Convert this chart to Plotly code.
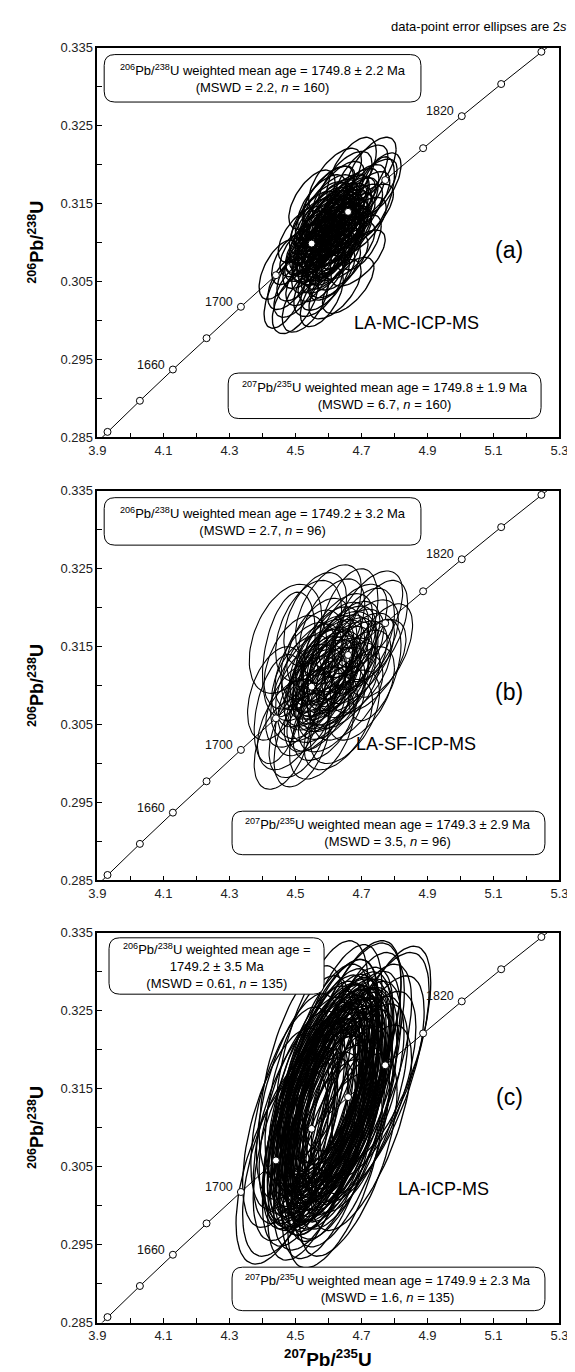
import math
import plotly.graph_objects as go

# ---------------- data ----------------
# concordia (age in Ma, 207Pb/235U, 206Pb/238U)
CONC_AGE = [1600, 1620, 1640, 1660, 1680, 1700, 1720, 1740, 1760, 1780, 1800, 1820, 1840, 1860, 1880]
CONC_X = [3.8345, 3.9306, 4.0287, 4.1287, 4.2307, 4.3348, 4.4409, 4.5491, 4.6595, 4.7721, 4.8869, 5.0040, 5.1234, 5.2452, 5.3700]
CONC_Y = [0.28171, 0.28570, 0.28969, 0.29370, 0.29772, 0.30175, 0.30580, 0.30986, 0.31393, 0.31801, 0.32210, 0.32621, 0.33033, 0.33447, 0.33861]
CONC_LABELS = {1660: "1660", 1700: "1700", 1820: "1820"}

X_TICKS = [3.9, 4.1, 4.3, 4.5, 4.7, 4.9, 5.1, 5.3]
Y_TICKS = [0.285, 0.295, 0.305, 0.315, 0.325, 0.335]

# panel (a) LA-MC-ICP-MS ellipses: centre x, centre y, 2s x, 2s y, rho
A_CX = [4.60, 4.58, 4.62, 4.56, 4.64, 4.59, 4.63, 4.55, 4.66, 4.61, 4.57, 4.65, 4.53, 4.68, 4.60, 4.62, 4.54, 4.67, 4.58, 4.64,
        4.51, 4.70, 4.56, 4.66, 4.59, 4.63, 4.50, 4.72, 4.61, 4.57, 4.65, 4.69, 4.55, 4.52, 4.71, 4.60, 4.62, 4.58, 4.64, 4.48,
        4.74, 4.53, 4.67, 4.60, 4.56, 4.66, 4.61, 4.59, 4.63, 4.57, 4.69, 4.54, 4.62, 4.70, 4.49, 4.58,
        4.59, 4.61, 4.57, 4.63, 4.60, 4.62, 4.58, 4.64, 4.56, 4.65, 4.60, 4.61, 4.59, 4.63, 4.57, 4.62, 4.66, 4.55, 4.60, 4.64,
        4.58, 4.61, 4.63, 4.59, 4.62, 4.56, 4.65, 4.60, 4.58, 4.67, 4.54, 4.61, 4.63, 4.60, 4.57, 4.64, 4.59, 4.62, 4.66, 4.58,
        4.60, 4.63, 4.61, 4.56, 4.65, 4.59, 4.62, 4.57, 4.64, 4.60,
        4.47, 4.50, 4.75, 4.52, 4.69, 4.55, 4.70, 4.66, 4.45, 4.73]
A_CY = [0.3110, 0.3100, 0.3120, 0.3085, 0.3130, 0.3125, 0.3095, 0.3105, 0.3145, 0.3080, 0.3115, 0.3110, 0.3075, 0.3135, 0.3140, 0.3065, 0.3095, 0.3155, 0.3060, 0.3150,
        0.3060, 0.3150, 0.3130, 0.3090, 0.3050, 0.3165, 0.3040, 0.3165, 0.3100, 0.3045, 0.3175, 0.3120, 0.3120, 0.3090, 0.3135, 0.3160, 0.3040, 0.3150, 0.3075, 0.3050,
        0.3160, 0.3025, 0.3190, 0.3095, 0.3070, 0.3125, 0.3135, 0.3085, 0.3105, 0.3095, 0.3160, 0.3055, 0.3180, 0.3100, 0.3080, 0.3030,
        0.3105, 0.3115, 0.3095, 0.3125, 0.3120, 0.3105, 0.3110, 0.3120, 0.3090, 0.3135, 0.3100, 0.3125, 0.3115, 0.3100, 0.3105, 0.3140, 0.3130, 0.3095, 0.3085, 0.3110,
        0.3120, 0.3090, 0.3135, 0.3130, 0.3115, 0.3110, 0.3120, 0.3130, 0.3080, 0.3145, 0.3085, 0.3145, 0.3085, 0.3150, 0.3125, 0.3140, 0.3070, 0.3095, 0.3110, 0.3140,
        0.3075, 0.3115, 0.3060, 0.3100, 0.3150, 0.3135, 0.3130, 0.3085, 0.3100, 0.3160,
        0.3035, 0.3025, 0.3175, 0.3110, 0.3080, 0.3155, 0.3185, 0.3045, 0.3065, 0.3195]
A_SX = [0.075, 0.072, 0.078, 0.070, 0.080, 0.074, 0.076, 0.069, 0.082, 0.073, 0.071, 0.079, 0.068, 0.084, 0.075, 0.077, 0.070, 0.083, 0.072, 0.080,
        0.066, 0.086, 0.072, 0.081, 0.074, 0.078, 0.065, 0.088, 0.090, 0.075, 0.082, 0.085, 0.068, 0.067, 0.087, 0.076, 0.079, 0.073, 0.080, 0.064,
        0.060, 0.070, 0.075, 0.095, 0.071, 0.081, 0.077, 0.074, 0.078, 0.072, 0.084, 0.069, 0.080, 0.060, 0.062, 0.065,
        0.072, 0.076, 0.070, 0.078, 0.074, 0.077, 0.073, 0.079, 0.071, 0.080, 0.072, 0.076, 0.070, 0.078, 0.074, 0.077, 0.073, 0.079, 0.071, 0.080,
        0.072, 0.076, 0.070, 0.078, 0.074, 0.077, 0.073, 0.079, 0.071, 0.080, 0.072, 0.076, 0.070, 0.078, 0.074, 0.077, 0.073, 0.079, 0.071, 0.080,
        0.072, 0.076, 0.070, 0.078, 0.074, 0.077, 0.073, 0.079, 0.071, 0.080,
        0.065, 0.070, 0.070, 0.072, 0.082, 0.070, 0.080, 0.078, 0.060, 0.075]
A_SY = [0.0036, 0.0034, 0.0037, 0.0035, 0.0038, 0.0036, 0.0035, 0.0034, 0.0039, 0.0035, 0.0035, 0.0037, 0.0034, 0.0040, 0.0037, 0.0036, 0.0035, 0.0040, 0.0036, 0.0038,
        0.0035, 0.0041, 0.0036, 0.0037, 0.0037, 0.0039, 0.0036, 0.0042, 0.0045, 0.0040, 0.0042, 0.0038, 0.0036, 0.0034, 0.0040, 0.0038, 0.0038, 0.0037, 0.0036, 0.0036,
        0.0050, 0.0040, 0.0045, 0.0050, 0.0035, 0.0038, 0.0037, 0.0035, 0.0036, 0.0035, 0.0040, 0.0036, 0.0041, 0.0035, 0.0034, 0.0038,
        0.0035, 0.0036, 0.0034, 0.0037, 0.0036, 0.0036, 0.0035, 0.0037, 0.0034, 0.0038, 0.0035, 0.0036, 0.0034, 0.0037, 0.0036, 0.0036, 0.0035, 0.0037, 0.0034, 0.0038,
        0.0035, 0.0036, 0.0034, 0.0037, 0.0036, 0.0036, 0.0035, 0.0037, 0.0034, 0.0038, 0.0035, 0.0036, 0.0034, 0.0037, 0.0036, 0.0036, 0.0035, 0.0037, 0.0034, 0.0038,
        0.0035, 0.0036, 0.0034, 0.0037, 0.0036, 0.0036, 0.0035, 0.0037, 0.0034, 0.0038,
        0.0045, 0.0042, 0.0040, 0.0036, 0.0036, 0.0038, 0.0040, 0.0036, 0.0038, 0.0040]
A_RHO = [0.65, 0.62, 0.66, 0.60, 0.68, 0.63, 0.64, 0.61, 0.67, 0.62, 0.60, 0.66, 0.59, 0.69, 0.64, 0.63, 0.61, 0.68, 0.62, 0.66,
         0.58, 0.70, 0.61, 0.66, 0.63, 0.65, 0.57, 0.70, 0.60, 0.55, 0.62, 0.67, 0.60, 0.58, 0.69, 0.64, 0.62, 0.63, 0.65, 0.56,
         0.55, 0.55, 0.60, 0.62, 0.60, 0.67, 0.65, 0.63, 0.66, 0.62, 0.68, 0.60, 0.63, 0.62, 0.58, 0.58,
         0.63, 0.65, 0.61, 0.66, 0.64, 0.65, 0.62, 0.66, 0.61, 0.67, 0.63, 0.65, 0.61, 0.66, 0.64, 0.65, 0.62, 0.66, 0.61, 0.67,
         0.63, 0.65, 0.61, 0.66, 0.64, 0.65, 0.62, 0.66, 0.61, 0.67, 0.63, 0.65, 0.61, 0.66, 0.64, 0.65, 0.62, 0.66, 0.61, 0.67,
         0.63, 0.65, 0.61, 0.66, 0.64, 0.65, 0.62, 0.66, 0.61, 0.67,
         0.60, 0.55, 0.60, 0.60, 0.66, 0.60, 0.65, 0.64, 0.58, 0.62]

# panel (b) LA-SF-ICP-MS
B_CX = [4.60, 4.56, 4.64, 4.58, 4.62, 4.54, 4.66, 4.60, 4.57, 4.68, 4.52, 4.63, 4.50, 4.70, 4.59, 4.65, 4.55, 4.47, 4.72, 4.48,
        4.61, 4.63, 4.53, 4.67, 4.44, 4.74, 4.58, 4.56, 4.70, 4.51, 4.62, 4.55, 4.66, 4.59, 4.64, 4.57, 4.61, 4.69, 4.53, 4.60,
        4.76, 4.46, 4.65, 4.58, 4.62, 4.54, 4.72, 4.50,
        4.60, 4.58, 4.62, 4.56, 4.64, 4.59, 4.61, 4.57, 4.63, 4.55, 4.65, 4.60, 4.58, 4.62, 4.67, 4.53, 4.61, 4.59, 4.64, 4.56,
        4.48, 4.70, 4.45, 4.66, 4.52, 4.74]
B_CY = [0.3115, 0.3100, 0.3125, 0.3130, 0.3095, 0.3085, 0.3140, 0.3145, 0.3070, 0.3115, 0.3110, 0.3160, 0.3075, 0.3150, 0.3060, 0.3100, 0.3140, 0.3160, 0.3125, 0.3050,
        0.3175, 0.3050, 0.3125, 0.3170, 0.3090, 0.3170, 0.3040, 0.3185, 0.3090, 0.3040, 0.3120, 0.3100, 0.3085, 0.3105, 0.3145, 0.3155, 0.3070, 0.3135, 0.3065, 0.3195,
        0.3145, 0.3025, 0.3060, 0.3120, 0.3135, 0.3170, 0.3185, 0.3130,
        0.3110, 0.3120, 0.3105, 0.3095, 0.3130, 0.3135, 0.3085, 0.3110, 0.3120, 0.3125, 0.3150, 0.3095, 0.3080, 0.3150, 0.3125, 0.3100, 0.3130, 0.3115, 0.3105, 0.3070,
        0.3140, 0.3160, 0.3070, 0.3180, 0.3030, 0.3120]
B_SX = [0.100, 0.095, 0.105, 0.098, 0.102, 0.093, 0.108, 0.100, 0.096, 0.110, 0.092, 0.104, 0.090, 0.112, 0.098, 0.106, 0.094, 0.110, 0.115, 0.095,
        0.100, 0.104, 0.092, 0.108, 0.085, 0.100, 0.098, 0.095, 0.100, 0.090, 0.130, 0.125, 0.105, 0.099, 0.104, 0.096, 0.101, 0.110, 0.092, 0.100,
        0.095, 0.085, 0.105, 0.100, 0.103, 0.100, 0.105, 0.095,
        0.098, 0.095, 0.102, 0.093, 0.105, 0.097, 0.101, 0.094, 0.103, 0.092, 0.106, 0.099, 0.096, 0.102, 0.108, 0.090, 0.100, 0.097, 0.104, 0.094,
        0.080, 0.100, 0.075, 0.090, 0.085, 0.080]
B_SY = [0.0055, 0.0052, 0.0057, 0.0055, 0.0054, 0.0053, 0.0058, 0.0056, 0.0054, 0.0056, 0.0055, 0.0058, 0.0054, 0.0060, 0.0056, 0.0055, 0.0057, 0.0070, 0.0060, 0.0058,
        0.0062, 0.0058, 0.0056, 0.0060, 0.0060, 0.0065, 0.0060, 0.0060, 0.0060, 0.0058, 0.0075, 0.0072, 0.0055, 0.0054, 0.0057, 0.0057, 0.0055, 0.0058, 0.0055, 0.0060,
        0.0060, 0.0058, 0.0060, 0.0055, 0.0056, 0.0065, 0.0062, 0.0060,
        0.0054, 0.0053, 0.0056, 0.0052, 0.0057, 0.0055, 0.0054, 0.0053, 0.0056, 0.0054, 0.0058, 0.0054, 0.0053, 0.0057, 0.0058, 0.0053, 0.0055, 0.0054, 0.0056, 0.0055,
        0.0080, 0.0065, 0.0070, 0.0070, 0.0060, 0.0065]
B_RHO = [0.55, 0.52, 0.56, 0.50, 0.55, 0.50, 0.58, 0.52, 0.50, 0.57, 0.48, 0.54, 0.47, 0.58, 0.50, 0.56, 0.48, 0.40, 0.58, 0.45,
         0.50, 0.52, 0.48, 0.55, 0.42, 0.55, 0.48, 0.45, 0.55, 0.45, 0.50, 0.48, 0.56, 0.53, 0.55, 0.50, 0.52, 0.57, 0.48, 0.50,
         0.55, 0.45, 0.52, 0.54, 0.55, 0.42, 0.55, 0.45,
         0.54, 0.52, 0.55, 0.50, 0.56, 0.52, 0.54, 0.51, 0.55, 0.49, 0.57, 0.53, 0.51, 0.55, 0.57, 0.48, 0.53, 0.52, 0.55, 0.50,
         0.35, 0.50, 0.40, 0.45, 0.45, 0.50]

# panel (c) LA-ICP-MS
C_CX = [4.60, 4.56, 4.64, 4.58, 4.62, 4.53, 4.67, 4.61, 4.55, 4.66, 4.50, 4.70, 4.59, 4.63, 4.57, 4.68, 4.52, 4.65, 4.48, 4.74,
        4.60, 4.62, 4.54, 4.71, 4.47, 4.58, 4.66, 4.55, 4.73, 4.51, 4.64, 4.57, 4.61, 4.59, 4.63, 4.56, 4.69, 4.53, 4.67, 4.49,
        4.62, 4.76, 4.46, 4.60, 4.65, 4.55, 4.70, 4.58, 4.52, 4.64, 4.57, 4.61, 4.68, 4.50, 4.63, 4.66,
        4.59, 4.61, 4.57, 4.63, 4.60, 4.62, 4.58, 4.64, 4.56, 4.65, 4.60, 4.61, 4.59, 4.63, 4.57, 4.62, 4.66, 4.55, 4.60, 4.64,
        4.58, 4.61, 4.63, 4.59, 4.62, 4.56, 4.65, 4.60, 4.58, 4.67, 4.54, 4.61, 4.63, 4.60, 4.57, 4.64, 4.59, 4.62, 4.66, 4.58,
        4.60, 4.63, 4.61, 4.56, 4.65, 4.59, 4.62, 4.57, 4.64, 4.60]
C_CY = [0.3130, 0.3115, 0.3145, 0.3100, 0.3160, 0.3095, 0.3150, 0.3110, 0.3140, 0.3120, 0.3080, 0.3170, 0.3175, 0.3085, 0.3070, 0.3185, 0.3120, 0.3100, 0.3065, 0.3180,
        0.3060, 0.3195, 0.3160, 0.3140, 0.3100, 0.3200, 0.3065, 0.3060, 0.3155, 0.3140, 0.3125, 0.3120, 0.3145, 0.3090, 0.3110, 0.3150, 0.3125, 0.3075, 0.3205, 0.3125,
        0.3045, 0.3195, 0.3050, 0.3125, 0.3170, 0.3100, 0.3100, 0.3155, 0.3170, 0.3075, 0.3095, 0.3180, 0.3135, 0.3105, 0.3135, 0.3195,
        0.3125, 0.3135, 0.3115, 0.3145, 0.3140, 0.3125, 0.3130, 0.3140, 0.3110, 0.3155, 0.3120, 0.3145, 0.3135, 0.3120, 0.3125, 0.3160, 0.3150, 0.3115, 0.3105, 0.3130,
        0.3140, 0.3110, 0.3155, 0.3150, 0.3135, 0.3130, 0.3140, 0.3150, 0.3100, 0.3165, 0.3105, 0.3165, 0.3105, 0.3170, 0.3145, 0.3160, 0.3090, 0.3115, 0.3130, 0.3160,
        0.3095, 0.3135, 0.3080, 0.3120, 0.3170, 0.3155, 0.3150, 0.3105, 0.3120, 0.3180]
C_SX = [0.140, 0.135, 0.145, 0.138, 0.142, 0.130, 0.150, 0.140, 0.133, 0.148, 0.128, 0.152, 0.138, 0.143, 0.136, 0.150, 0.130, 0.146, 0.140, 0.165,
        0.140, 0.142, 0.132, 0.155, 0.130, 0.140, 0.148, 0.134, 0.160, 0.128, 0.170, 0.165, 0.141, 0.139, 0.144, 0.134, 0.150, 0.130, 0.150, 0.125,
        0.143, 0.150, 0.140, 0.150, 0.145, 0.135, 0.152, 0.137, 0.130, 0.145, 0.136, 0.141, 0.149, 0.128, 0.143, 0.160,
        0.138, 0.142, 0.134, 0.145, 0.140, 0.143, 0.137, 0.146, 0.133, 0.148, 0.138, 0.142, 0.134, 0.145, 0.140, 0.143, 0.137, 0.146, 0.133, 0.148,
        0.138, 0.142, 0.134, 0.145, 0.140, 0.143, 0.137, 0.146, 0.133, 0.148, 0.138, 0.142, 0.134, 0.145, 0.140, 0.143, 0.137, 0.146, 0.133, 0.148,
        0.138, 0.142, 0.134, 0.145, 0.140, 0.143, 0.137, 0.146, 0.133, 0.148]
C_SY = [0.0130, 0.0125, 0.0135, 0.0128, 0.0133, 0.0125, 0.0138, 0.0130, 0.0128, 0.0132, 0.0125, 0.0140, 0.0135, 0.0128, 0.0127, 0.0140, 0.0130, 0.0130, 0.0130, 0.0145,
        0.0128, 0.0140, 0.0135, 0.0135, 0.0128, 0.0140, 0.0130, 0.0130, 0.0140, 0.0132, 0.0155, 0.0152, 0.0132, 0.0128, 0.0130, 0.0132, 0.0134, 0.0127, 0.0135, 0.0130,
        0.0125, 0.0138, 0.0125, 0.0140, 0.0136, 0.0128, 0.0132, 0.0133, 0.0138, 0.0128, 0.0128, 0.0136, 0.0134, 0.0128, 0.0131, 0.0142,
        0.0128, 0.0132, 0.0126, 0.0134, 0.0130, 0.0131, 0.0128, 0.0134, 0.0126, 0.0136, 0.0128, 0.0132, 0.0126, 0.0134, 0.0130, 0.0131, 0.0128, 0.0134, 0.0126, 0.0136,
        0.0128, 0.0132, 0.0126, 0.0134, 0.0130, 0.0131, 0.0128, 0.0134, 0.0126, 0.0136, 0.0128, 0.0132, 0.0126, 0.0134, 0.0130, 0.0131, 0.0128, 0.0134, 0.0126, 0.0136,
        0.0128, 0.0132, 0.0126, 0.0134, 0.0130, 0.0131, 0.0128, 0.0134, 0.0126, 0.0136]
C_RHO = [0.62, 0.60, 0.64, 0.61, 0.63, 0.58, 0.65, 0.62, 0.59, 0.64, 0.57, 0.66, 0.60, 0.63, 0.60, 0.64, 0.57, 0.64, 0.58, 0.66,
         0.61, 0.62, 0.58, 0.66, 0.56, 0.60, 0.63, 0.58, 0.67, 0.56, 0.62, 0.60, 0.62, 0.61, 0.63, 0.59, 0.65, 0.58, 0.62, 0.55,
         0.62, 0.66, 0.58, 0.62, 0.63, 0.59, 0.66, 0.60, 0.56, 0.63, 0.60, 0.62, 0.65, 0.57, 0.63, 0.64,
         0.61, 0.63, 0.59, 0.64, 0.62, 0.63, 0.60, 0.64, 0.59, 0.65, 0.61, 0.63, 0.59, 0.64, 0.62, 0.63, 0.60, 0.64, 0.59, 0.65,
         0.61, 0.63, 0.59, 0.64, 0.62, 0.63, 0.60, 0.64, 0.59, 0.65, 0.61, 0.63, 0.59, 0.64, 0.62, 0.63, 0.60, 0.64, 0.59, 0.65,
         0.61, 0.63, 0.59, 0.64, 0.62, 0.63, 0.60, 0.64, 0.59, 0.65]

PANELS = [
    dict(cx=A_CX, cy=A_CY, sx=A_SX, sy=A_SY, rho=A_RHO, letter="(a)", method="LA-MC-ICP-MS",
         box1=["<sup>206</sup>Pb/<sup>238</sup>U weighted mean age = 1749.8 ± 2.2 Ma", "(MSWD = 2.2, <i>n</i> = 160)"],
         box2=["<sup>207</sup>Pb/<sup>235</sup>U weighted mean age = 1749.8 ± 1.9 Ma", "(MSWD = 6.7, <i>n</i> = 160)"]),
    dict(cx=B_CX, cy=B_CY, sx=B_SX, sy=B_SY, rho=B_RHO, letter="(b)", method="LA-SF-ICP-MS",
         box1=["<sup>206</sup>Pb/<sup>238</sup>U weighted mean age = 1749.2 ± 3.2 Ma", "(MSWD = 2.7, <i>n</i> = 96)"],
         box2=["<sup>207</sup>Pb/<sup>235</sup>U weighted mean age = 1749.3 ± 2.9 Ma", "(MSWD = 3.5, <i>n</i> = 96)"]),
    dict(cx=C_CX, cy=C_CY, sx=C_SX, sy=C_SY, rho=C_RHO, letter="(c)", method="LA-ICP-MS",
         box1=["<sup>206</sup>Pb/<sup>238</sup>U weighted mean age =", "1749.2 ± 3.5 Ma", "(MSWD = 0.61, <i>n</i> = 135)"],
         box2=["<sup>207</sup>Pb/<sup>235</sup>U weighted mean age = 1749.9 ± 2.3 Ma", "(MSWD = 1.6, <i>n</i> = 135)"]),
]

# ---------------- layout geometry (pixels) ----------------
W, H = 575, 1372
PLOT_L, PLOT_R = 83, 560
PANEL_TOP = [33, 481, 928]
PANEL_H = 394
BOX1 = [(90, 7, 417, 55), (90, 7, 417, 55), (95, 5, 317, 62)]
BOX2 = [(218, 329, 541, 375), (222, 324, 545, 368), (222, 338, 545, 382)]
LETTER_POS = [(508, 205), (508, 203), (508, 166)]
METHOD_POS = [(412, 278), (412, 256), (440, 259)]
LINE_W = [1.35, 1.1, 1.3]

FONT = "Liberation Sans, Arial, sans-serif"
BOLD_FONT = "Liberation Sans Narrow, Liberation Sans, Arial"


def px(x):
    return x / W


def py(y):
    return 1 - y / H


def rrect(x0, y0, x1, y1, r=11):
    X0, X1, Y0, Y1 = px(x0), px(x1), py(y0), py(y1)
    rx, ry = r / W, r / H
    return (f"M {X0+rx},{Y0} L {X1-rx},{Y0} Q {X1},{Y0} {X1},{Y0-ry} "
            f"L {X1},{Y1+ry} Q {X1},{Y1} {X1-rx},{Y1} L {X0+rx},{Y1} "
            f"Q {X0},{Y1} {X0},{Y1+ry} L {X0},{Y0-ry} Q {X0},{Y0} {X0+rx},{Y0} Z")


fig = go.Figure()
shapes = []
annotations = []
NPT = 80

for i, p in enumerate(PANELS):
    xa = "x" if i == 0 else f"x{i+1}"
    ya = "y" if i == 0 else f"y{i+1}"
    ex, ey = [], []
    for cx, cy, sx, sy, r in zip(p["cx"], p["cy"], p["sx"], p["sy"], p["rho"]):
        s = math.sqrt(1 - r * r)
        for k in range(NPT + 1):
            t = 2 * math.pi * k / NPT
            ex.append(cx + sx * math.cos(t))
            ey.append(cy + sy * (r * math.cos(t) + s * math.sin(t)))
        ex.append(None)
        ey.append(None)
    fig.add_trace(go.Scatter(x=ex, y=ey, mode="lines", line=dict(color="black", width=LINE_W[i]),
                             xaxis=xa, yaxis=ya, hoverinfo="skip", showlegend=False))
    fig.add_trace(go.Scatter(x=CONC_X, y=CONC_Y, mode="lines", line=dict(color="black", width=1),
                             xaxis=xa, yaxis=ya, hoverinfo="skip", showlegend=False))
    fig.add_trace(go.Scatter(x=CONC_X[1:-1], y=CONC_Y[1:-1], mode="markers",
                             marker=dict(symbol="circle", size=7, color="white",
                                         line=dict(color="black", width=1)),
                             xaxis=xa, yaxis=ya, hoverinfo="skip", showlegend=False))
    for age, lab in CONC_LABELS.items():
        j = CONC_AGE.index(age)
        annotations.append(dict(x=CONC_X[j], y=CONC_Y[j], xref=xa, yref=ya, text=lab, showarrow=False,
                                xanchor="right", yanchor="middle", xshift=-6, yshift=5,
                                font=dict(family=FONT, size=12.5, color="#111")))

    top = PANEL_TOP[i]
    for box, lines in ((BOX1[i], p["box1"]), (BOX2[i], p["box2"])):
        x0, y0, x1, y1 = box
        shapes.append(dict(type="path", xref="paper", yref="paper", path=rrect(x0, top + y0, x1, top + y1),
                           line=dict(color="black", width=1), fillcolor="white", layer="above"))
        annotations.append(dict(x=px((x0 + x1) / 2), y=py(top + (y0 + y1) / 2), xref="paper", yref="paper",
                                text="<br>".join(lines), showarrow=False, align="center",
                                xanchor="center", yanchor="middle",
                                font=dict(family=FONT, size=13, color="black")))
    lx, ly = LETTER_POS[i]
    annotations.append(dict(x=px(lx), y=py(top + ly), xref="paper", yref="paper", text=p["letter"],
                            showarrow=False, xanchor="center", yanchor="middle",
                            font=dict(family=FONT, size=23, color="black")))
    mx, my = METHOD_POS[i]
    annotations.append(dict(x=px(mx), y=py(top + my), xref="paper", yref="paper", text=p["method"],
                            showarrow=False, xanchor="center", yanchor="middle",
                            font=dict(family=FONT, size=18, color="black")))
    annotations.append(dict(x=px(20), y=py(top + PANEL_H / 2), xref="paper", yref="paper",
                            text="<b><sup>206</sup>Pb/<sup>238</sup>U</b>", textangle=-90, showarrow=False,
                            xanchor="center", yanchor="middle",
                            font=dict(family=BOLD_FONT, size=18, color="black")))

    axis_common = dict(showgrid=False, zeroline=False, showline=True, linecolor="black", linewidth=1.6,
                       mirror=True, ticks="inside", ticklen=5, tickcolor="black", tickwidth=1,
                       tickfont=dict(family=FONT, size=13, color="#222"))
    xdict = dict(axis_common, range=[3.9, 5.3], tickvals=X_TICKS, ticktext=[f"{v:.1f}" for v in X_TICKS],
                 domain=[px(PLOT_L), px(PLOT_R)], anchor=ya,
                 minor=dict(dtick=0.1, tick0=3.9, ticks="inside", ticklen=5, tickcolor="black"))
    ydict = dict(axis_common, range=[0.285, 0.335], tickvals=Y_TICKS, ticktext=[f"{v:.3f}" for v in Y_TICKS],
                 domain=[py(top + PANEL_H), py(top)], anchor=xa,
                 minor=dict(dtick=0.005, tick0=0.285, ticks="inside", ticklen=5, tickcolor="black"))
    key = "" if i == 0 else str(i + 1)
    fig.update_layout(**{f"xaxis{key}": xdict, f"yaxis{key}": ydict})

annotations.append(dict(x=px(570), y=py(12), xref="paper", yref="paper",
                        text="data-point error ellipses are 2<i>s</i>", showarrow=False,
                        xanchor="right", yanchor="middle", font=dict(family=FONT, size=13, color="black")))
annotations.append(dict(x=px((PLOT_L + PLOT_R) / 2), y=py(1358), xref="paper", yref="paper",
                        text="<b><sup>207</sup>Pb/<sup>235</sup>U</b>", showarrow=False,
                        xanchor="center", yanchor="middle",
                        font=dict(family=BOLD_FONT, size=19, color="black")))

fig.update_layout(width=W, height=H, margin=dict(l=0, r=0, t=0, b=0), paper_bgcolor="white",
                  plot_bgcolor="white", shapes=shapes, annotations=annotations, showlegend=False)
fig.write_html("out.html")
